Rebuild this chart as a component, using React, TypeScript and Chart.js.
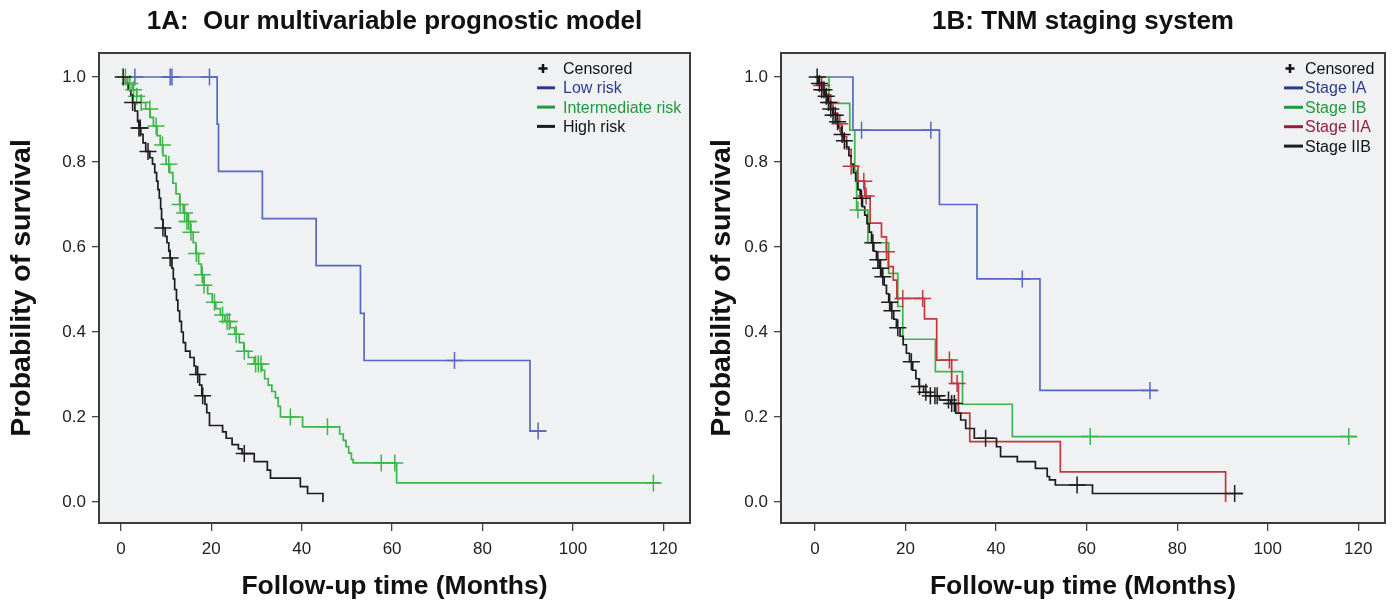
import { useEffect, useRef } from "react";
import { Chart, registerables } from "chart.js";
Chart.register(...registerables);

// ---------- shared ticks / texts ----------
const xTicks = [0, 20, 40, 60, 80, 100, 120];
const yTicks = [0, 0.2, 0.4, 0.6, 0.8, 1.0];
const xTitle = "Follow-up time (Months)";
const yTitle = "Probability of survival";
const censoredLabel = "Censored";

// ---------- Panel 1A ----------
const titleA = "1A:  Our multivariable prognostic model";
const groupsA = ["Low risk", "Intermediate risk", "High risk"];

const lowT = [0, 21.3, 21.6, 31.3, 43.2, 53.0, 53.8, 90.5, 94.0];
const lowS = [1, 0.889, 0.778, 0.667, 0.556, 0.444, 0.333, 0.167, 0.167];
const lowCens = [3.1, 10.9, 11.3, 19.6, 73.8, 92.3];

const midT = [0, 1.5, 2.5, 3.5, 4.5, 5.5, 6.5, 7.2, 8.0, 8.7, 9.3, 10.0, 10.8, 11.5, 12.2, 13.0, 13.8, 14.6, 15.4, 16.0, 16.6, 17.2, 17.8, 18.4, 19.2, 20.2, 21.0, 22.0, 23.0, 24.2, 25.2, 26.2, 27.2, 28.2, 29.5, 31.2, 31.8, 32.6, 33.4, 34.2, 34.8, 35.3, 40.2, 48.4, 49.2, 49.8, 50.4, 51.0, 51.4, 61.0, 119.3];
const midS = [1, 0.985, 0.97, 0.955, 0.94, 0.925, 0.905, 0.885, 0.862, 0.84, 0.815, 0.795, 0.775, 0.75, 0.725, 0.7, 0.68, 0.66, 0.635, 0.61, 0.585, 0.56, 0.535, 0.51, 0.49, 0.47, 0.455, 0.44, 0.425, 0.41, 0.395, 0.375, 0.355, 0.34, 0.325, 0.31, 0.29, 0.275, 0.26, 0.245, 0.225, 0.2, 0.177, 0.16, 0.145, 0.13, 0.115, 0.1, 0.092, 0.045, 0.045];
const midCens = [1.0, 2.0, 2.8, 3.5, 4.5, 6.4, 7.8, 9.2, 10.6, 13.1, 14.1, 14.6, 15.0, 15.5, 16.7, 18.0, 18.4, 20.7, 22.5, 23.5, 24.0, 25.5, 27.3, 29.8, 30.4, 31.0, 37.5, 45.7, 57.6, 60.6, 117.8];

const highT = [0, 1.0, 1.6, 2.2, 2.6, 3.1, 3.7, 4.0, 4.4, 4.9, 5.5, 6.4, 7.0, 7.5, 7.9, 8.2, 8.5, 8.8, 9.0, 9.3, 9.8, 10.2, 10.6, 10.9, 11.3, 11.6, 11.9, 12.3, 12.6, 13.0, 13.4, 13.8, 14.3, 15.3, 16.2, 16.6, 17.4, 17.9, 18.6, 19.0, 19.6, 22.5, 23.3, 24.6, 26.0, 26.8, 29.5, 32.4, 33.1, 39.7, 41.3, 44.7];
const highS = [1, 0.985, 0.97, 0.955, 0.94, 0.92, 0.895, 0.88, 0.865, 0.845, 0.825, 0.81, 0.795, 0.775, 0.755, 0.735, 0.715, 0.69, 0.665, 0.645, 0.625, 0.61, 0.59, 0.574, 0.55, 0.525, 0.5, 0.475, 0.45, 0.425, 0.4, 0.375, 0.355, 0.34, 0.32, 0.3, 0.275, 0.25, 0.23, 0.21, 0.18, 0.165, 0.15, 0.135, 0.125, 0.114, 0.095, 0.075, 0.056, 0.036, 0.02, 0];
const highCens = [0.5, 2.6, 4.0, 4.3, 6.0, 9.3, 10.9, 17.0, 18.1, 27.3];

// ---------- Panel 1B ----------
const titleB = "1B: TNM staging system";
const groupsB = ["Stage IA", "Stage IB", "Stage IIA", "Stage IIB"];

const iaT = [0, 8.4, 27.5, 35.8, 49.7, 75.6];
const iaS = [1, 0.875, 0.7, 0.525, 0.2625, 0.2625];
const iaCens = [10.3, 25.6, 45.8, 74.0];

const ibT = [0, 3.1, 7.7, 8.8, 9.2, 11.7, 16.3, 18.3, 19.4, 26.6, 32.6, 43.6, 119.6];
const ibS = [1, 0.938, 0.875, 0.78, 0.687, 0.61, 0.538, 0.46, 0.383, 0.307, 0.23, 0.154, 0.154];
const ibCens = [9.5, 60.8, 117.9];

const iiaT = [0, 1.0, 2.0, 3.0, 4.0, 5.0, 6.0, 7.0, 8.0, 9.5, 11.0, 12.2, 14.7, 15.8, 16.2, 17.3, 18.1, 24.2, 26.9, 30.2, 31.7, 34.2, 54.2, 90.7];
const iiaS = [1, 0.98, 0.96, 0.94, 0.915, 0.89, 0.86, 0.83, 0.79, 0.755, 0.72, 0.656, 0.624, 0.589, 0.554, 0.522, 0.479, 0.431, 0.334, 0.279, 0.209, 0.142, 0.071, 0];
const iiaCens = [1.5, 3.5, 5.5, 8.0, 10.8, 11.3, 15.8, 19.4, 23.8, 29.7, 31.4];

const iibT = [0, 0.8, 1.5, 2.2, 2.8, 3.4, 4.0, 4.6, 5.2, 5.8, 6.4, 7.0, 7.5, 8.0, 8.5, 9.0, 9.5, 10.0, 10.5, 11.0, 11.5, 12.0, 12.5, 13.0, 13.6, 14.2, 14.8, 15.3, 15.8, 16.3, 16.8, 17.4, 18.0, 18.8, 19.5, 20.2, 20.9, 21.6, 22.3, 23.0, 24.0, 25.5, 27.5, 30.0, 31.1, 32.2, 33.3, 35.2, 40.1, 41.0, 44.7, 48.7, 51.3, 51.8, 53.1, 61.3, 94.5];
const iibS = [1, 0.985, 0.97, 0.955, 0.94, 0.925, 0.91, 0.895, 0.88, 0.865, 0.85, 0.835, 0.815, 0.795, 0.775, 0.755, 0.735, 0.715, 0.695, 0.675, 0.655, 0.635, 0.61, 0.59, 0.57, 0.55, 0.53, 0.51, 0.49, 0.47, 0.45, 0.43, 0.41, 0.39, 0.37, 0.35, 0.33, 0.31, 0.29, 0.272, 0.258, 0.25, 0.24, 0.232, 0.209, 0.193, 0.173, 0.15, 0.13, 0.107, 0.095, 0.079, 0.06, 0.052, 0.04, 0.02, 0.02];
const iibCens = [0.5, 1.0, 1.5, 2.0, 2.5, 3.0, 3.5, 4.0, 4.5, 5.0, 6.0, 6.5, 10.3, 12.8, 13.9, 14.5, 15.0, 16.5, 17.0, 18.3, 21.3, 23.1, 24.5, 25.5, 26.5, 27.0, 29.5, 30.2, 30.8, 37.7, 57.9, 92.7];

// ---------- colours ----------
const BLUE = "#5568c2";
const GREEN = "#3cb64a";
const RED = "#c0393d";
const BLACK = "#1c1c1c";
const BLUE_TXT = "#2c3a8c";
const GREEN_TXT = "#1f9a3c";
const RED_TXT = "#9b1b3b";
const TXT = "#111";

const FONT = "'Liberation Sans', Arial, sans-serif";

function steps(T: number[], S: number[]) {
  return T.map((t, i) => ({ x: t, y: S[i] }));
}
function survAt(T: number[], S: number[], t: number) {
  let s = S[0];
  for (let i = 0; i < T.length; i++) if (T[i] <= t) s = S[i];
  return s;
}

type Group = { label: string; T: number[]; S: number[]; C: number[]; color: string; legendLine: string; text: string };

type PanelCfg = {
  left: number;
  width: number;
  areaLeft: number;
  areaRight: number;
  xMin: number;
  xMax: number;
  title: string;
  legendGroups: Group[]; // legend order
  drawOrder: string[]; // first = on top
  legendRight: number;
  legendLine: number;
  legendText: number;
  legendGap: number;
};

const AREA_TOP = 53;
const AREA_BOTTOM = 523;
const H = 604;

function buildDatasets(p: PanelCfg) {
  const groups = p.drawOrder.map((l) => p.legendGroups.find((g) => g.label === l)!);
  const cens = groups.map((g) => ({
    type: "scatter" as const,
    label: g.label + " censored",
    data: g.C.map((t) => ({ x: t, y: survAt(g.T, g.S, t) })),
    pointStyle: "cross",
    pointRadius: 8.5,
    pointHoverRadius: 8.5,
    pointBorderColor: g.color,
    borderColor: g.color,
    pointBorderWidth: 1.5,
    showLine: false,
  }));
  const lines = groups.map((g) => ({
    type: "line" as const,
    label: g.label,
    data: steps(g.T, g.S),
    borderColor: g.color,
    borderWidth: 1.7,
    stepped: true,
    pointRadius: 0,
    fill: false,
  }));
  return [...cens, ...lines];
}

function makeChart(canvas: HTMLCanvasElement, p: PanelCfg) {
  const boxPlugin = {
    id: "kmBox",
    beforeDraw(chart: any) {
      const { ctx, chartArea: a } = chart;
      ctx.save();
      ctx.fillStyle = "#f0f1f3";
      ctx.fillRect(a.left, a.top, a.right - a.left, a.bottom - a.top);
      ctx.restore();
    },
    afterDatasetsDraw(chart: any) {
      const { ctx, chartArea: a } = chart;
      ctx.save();
      ctx.strokeStyle = "#3c3c3c";
      ctx.lineWidth = 2;
      ctx.strokeRect(a.left, a.top, a.right - a.left, a.bottom - a.top);
      ctx.restore();
    },
  };
  const legendPlugin = {
    id: "kmLegend",
    afterDraw(chart: any) {
      const { ctx, chartArea: a } = chart;
      ctx.save();
      ctx.font = `16px ${FONT}`;
      ctx.textBaseline = "middle";
      ctx.textAlign = "left";
      const x0 = a.right - p.legendRight;
      const items = [
        { label: censoredLabel, censor: true, line: BLACK, text: TXT },
        ...p.legendGroups.map((g) => ({ label: g.label, censor: false, line: g.legendLine, text: g.text })),
      ];
      items.forEach((it, i) => {
        const y = a.top + 15.5 + i * p.legendGap;
        if (it.censor) {
          const cx = x0 + 6;
          ctx.strokeStyle = TXT;
          ctx.lineWidth = 2.5;
          ctx.beginPath();
          ctx.moveTo(cx - 4.5, y);
          ctx.lineTo(cx + 4.5, y);
          ctx.moveTo(cx, y - 4.5);
          ctx.lineTo(cx, y + 4.5);
          ctx.stroke();
        } else {
          ctx.strokeStyle = it.line;
          ctx.lineWidth = 3;
          ctx.beginPath();
          ctx.moveTo(x0, y);
          ctx.lineTo(x0 + p.legendLine, y);
          ctx.stroke();
        }
        ctx.fillStyle = it.text;
        ctx.fillText(it.label, x0 + p.legendText, y + 1);
      });
      ctx.restore();
    },
  };

  return new Chart(canvas, {
    type: "line",
    data: { datasets: buildDatasets(p) as any },
    plugins: [boxPlugin, legendPlugin],
    options: {
      responsive: false,
      animation: false,
      events: [],
      layout: { padding: { left: 0, right: p.width - p.areaRight, top: 0, bottom: 0 } },
      plugins: {
        legend: { display: false },
        tooltip: { enabled: false },
        title: {
          display: true,
          text: p.title,
          fullSize: false,
          color: TXT,
          font: { family: FONT, size: 26, weight: "bold" },
          padding: { top: 6, bottom: AREA_TOP - 6 - 31.2 },
        },
      },
      scales: {
        x: {
          type: "linear",
          min: p.xMin,
          max: p.xMax,
          afterBuildTicks: (s: any) => {
            s.ticks = xTicks.map((v) => ({ value: v }));
          },
          afterFit: (s: any) => {
            s.height = H - AREA_BOTTOM;
          },
          ticks: {
            color: "#222",
            font: { family: FONT, size: 17 },
            padding: 8,
            maxRotation: 0,
            callback: (v: any) => String(v),
          },
          grid: { drawOnChartArea: false, drawTicks: true, tickLength: 8, color: "#444", lineWidth: 1.3 },
          border: { display: false },
          title: {
            display: true,
            text: xTitle,
            color: TXT,
            font: { family: FONT, size: 26.5, weight: "bold" },
            padding: { top: 0, bottom: 1 },
          },
        },
        y: {
          type: "linear",
          min: -0.0494,
          max: 1.0565,
          afterBuildTicks: (s: any) => {
            s.ticks = yTicks.map((v) => ({ value: v }));
          },
          afterFit: (s: any) => {
            s.width = p.areaLeft;
          },
          ticks: {
            color: "#222",
            font: { family: FONT, size: 17 },
            padding: 6,
            callback: (v: any) => Number(v).toFixed(1),
          },
          grid: { drawOnChartArea: false, drawTicks: true, tickLength: 7, color: "#444", lineWidth: 1.3 },
          border: { display: false },
          title: {
            display: true,
            text: yTitle,
            color: TXT,
            font: { family: FONT, size: 28.5, weight: "bold" },
            padding: { top: 5, bottom: 0 },
          },
        },
      },
    } as any,
  });
}

const panelA: PanelCfg = {
  left: 0,
  width: 700,
  areaLeft: 99,
  areaRight: 693,
  xMin: -4.84,
  xMax: 125.9,
  title: titleA,
  legendGroups: [
    { label: groupsA[0], T: lowT, S: lowS, C: lowCens, color: BLUE, legendLine: BLUE_TXT, text: BLUE_TXT },
    { label: groupsA[1], T: midT, S: midS, C: midCens, color: GREEN, legendLine: GREEN_TXT, text: GREEN_TXT },
    { label: groupsA[2], T: highT, S: highS, C: highCens, color: BLACK, legendLine: BLACK, text: TXT },
  ],
  drawOrder: [groupsA[2], groupsA[1], groupsA[0]],
  legendRight: 153,
  legendLine: 18,
  legendText: 26,
  legendGap: 19.3,
};

const panelB: PanelCfg = {
  left: 700,
  width: 695,
  areaLeft: 81,
  areaRight: 687,
  xMin: -7.49,
  xMax: 125.9,
  title: titleB,
  legendGroups: [
    { label: groupsB[0], T: iaT, S: iaS, C: iaCens, color: BLUE, legendLine: BLUE_TXT, text: BLUE_TXT },
    { label: groupsB[1], T: ibT, S: ibS, C: ibCens, color: GREEN, legendLine: GREEN_TXT, text: GREEN_TXT },
    { label: groupsB[2], T: iiaT, S: iiaS, C: iiaCens, color: RED, legendLine: RED_TXT, text: RED_TXT },
    { label: groupsB[3], T: iibT, S: iibS, C: iibCens, color: BLACK, legendLine: BLACK, text: TXT },
  ],
  drawOrder: [groupsB[3], groupsB[2], groupsB[1], groupsB[0]],
  legendRight: 101,
  legendLine: 19,
  legendText: 21,
  legendGap: 19.4,
};

function Panel({ p }: { p: PanelCfg }) {
  const ref = useRef<HTMLCanvasElement>(null);
  useEffect(() => {
    if (!ref.current) return;
    const chart = makeChart(ref.current, p);
    return () => chart.destroy();
  }, []);
  return <canvas ref={ref} width={p.width} height={H} style={{ position: "absolute", left: p.left, top: 0 }} />;
}

export default function App() {
  return (
    <div style={{ position: "absolute", left: 0, top: 0, width: 1395, height: H, background: "#fff" }}>
      <Panel p={panelA} />
      <Panel p={panelB} />
    </div>
  );
}
